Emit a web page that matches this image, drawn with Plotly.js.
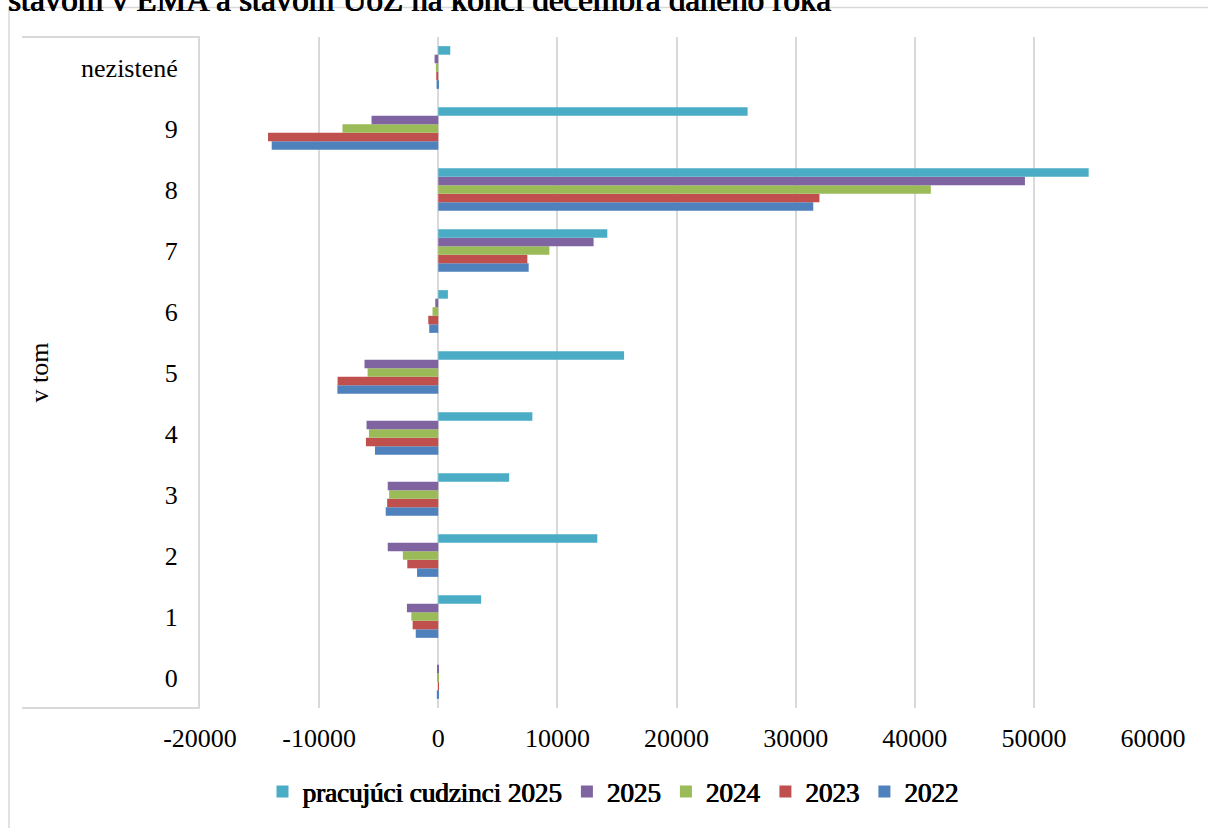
<!DOCTYPE html>
<html>
<head>
<meta charset="utf-8">
<script src="https://cdn.plot.ly/plotly-3.0.1.min.js"></script>
<style>
  html, body { margin: 0; padding: 0; background: #ffffff; }
  #chart { width: 1208px; height: 828px; }
</style>
</head>
<body>
<div id="chart"></div>
<script>
// ---- data ----
const categories = ['0', '1', '2', '3', '4', '5', '6', '7', '8', '9', 'nezistené'];
const seriesNames = ['2022', '2023', '2024', '2025', 'pracujúci cudzinci 2025'];
const values2022 = [-120, -1890, -1780, -4410, -5310, -8470, -760, 7590, 31480, -13980, -140];
const values2023 = [-20, -2150, -2600, -4290, -6070, -8450, -840, 7480, 32000, -14290, -170];
const values2024 = [-30, -2260, -2970, -4120, -5820, -5930, -480, 9330, 41350, -8040, -200];
const values2025 = [-30, -2630, -4240, -4240, -6020, -6190, -250, 13040, 49250, -5600, -310];
const valuesCudzinci2025 = [0, 3600, 13350, 5950, 7900, 15600, 810, 14190, 54600, 25970, 1010];
const xTickVals = [-20000, -10000, 0, 10000, 20000, 30000, 40000, 50000, 60000];
const xTickText = ['-20000', '-10000', '0', '10000', '20000', '30000', '40000', '50000', '60000'];
const titleText = 'stavom v EMA a stavom ÚoZ na konci decembra daného roka';
const yAxisTitle = 'v tom';

// ---- styles ----
const colors = ['#4F81BD', '#C0504D', '#9BBB59', '#8064A2', '#4BACC6'];
const allValues = [values2022, values2023, values2024, values2025, valuesCudzinci2025];
const FONT = '"Liberation Serif", "Times New Roman", serif';
const FAUX_BOLD = '0.7px 0 0 #000, -0.35px 0 0 #000';

const traces = allValues.map((vals, i) => ({
  type: 'bar',
  orientation: 'h',
  name: seriesNames[i],
  y: categories,
  x: vals,
  marker: { color: colors[i], line: { width: 0 } },
  hoverinfo: 'x+y+name'
}));

const layout = {
  width: 1208,
  height: 828,
  margin: { l: 200, r: 55, t: 37, b: 120 },
  paper_bgcolor: '#ffffff',
  plot_bgcolor: '#ffffff',
  font: { family: FONT, size: 26, color: '#000000' },
  barmode: 'group',
  bargap: 0.3,
  bargroupgap: 0,
  title: {
    text: titleText,
    font: { family: FONT, size: 33, color: '#000000', shadow: FAUX_BOLD },
    xref: 'container', x: 8 / 1208, xanchor: 'left',
    yref: 'container', y: 1 - 11 / 828, yanchor: 'bottom'
  },
  xaxis: {
    range: [-20000, 60000],
    tickvals: xTickVals,
    ticktext: xTickText,
    showgrid: true,
    gridcolor: '#d9d9d9',
    gridwidth: 2,
    zeroline: false,
    showline: false,
    ticks: '',
    ticklabelstandoff: 12,
    tickfont: { family: FONT, size: 26, color: '#000000' },
    fixedrange: true
  },
  yaxis: {
    type: 'category',
    categoryorder: 'array',
    categoryarray: categories,
    showgrid: false,
    zeroline: false,
    showline: true,
    linecolor: '#d9d9d9',
    linewidth: 2,
    ticks: '',
    ticklabelstandoff: 15,
    tickfont: { family: FONT, size: 26, color: '#000000' },
    title: { text: yAxisTitle, font: { family: FONT, size: 26, color: '#000000' }, standoff: 25 },
    automargin: false,
    fixedrange: true
  },
  legend: {
    orientation: 'h',
    traceorder: 'reversed',
    xref: 'container', x: 613 / 1208, xanchor: 'center',
    yref: 'container', y: 1 - 792 / 828, yanchor: 'middle',
    font: { family: FONT, size: 27, color: '#000000', shadow: FAUX_BOLD },
    itemclick: false, itemdoubleclick: false
  },
  shapes: [
    // chart area border
    { type: 'rect', xref: 'paper', yref: 'paper', x0: (9 - 200) / 953, x1: 1.2, y0: -0.4, y1: (708 - 7.5) / 671,
      line: { color: '#d9d9d9', width: 1.5 }, fillcolor: 'rgba(0,0,0,0)', layer: 'below' },
    // category label box dividers
    { type: 'line', xref: 'paper', yref: 'paper', x0: (22 - 200) / 953, x1: 0, y0: 1, y1: 1,
      line: { color: '#d9d9d9', width: 2 } },
    { type: 'line', xref: 'paper', yref: 'paper', x0: (22 - 200) / 953, x1: 0, y0: 0, y1: 0,
      line: { color: '#d9d9d9', width: 2 } }
  ],
  showlegend: true
};

Plotly.newPlot('chart', traces, layout, { displayModeBar: false, staticPlot: false });
</script>
</body>
</html>
